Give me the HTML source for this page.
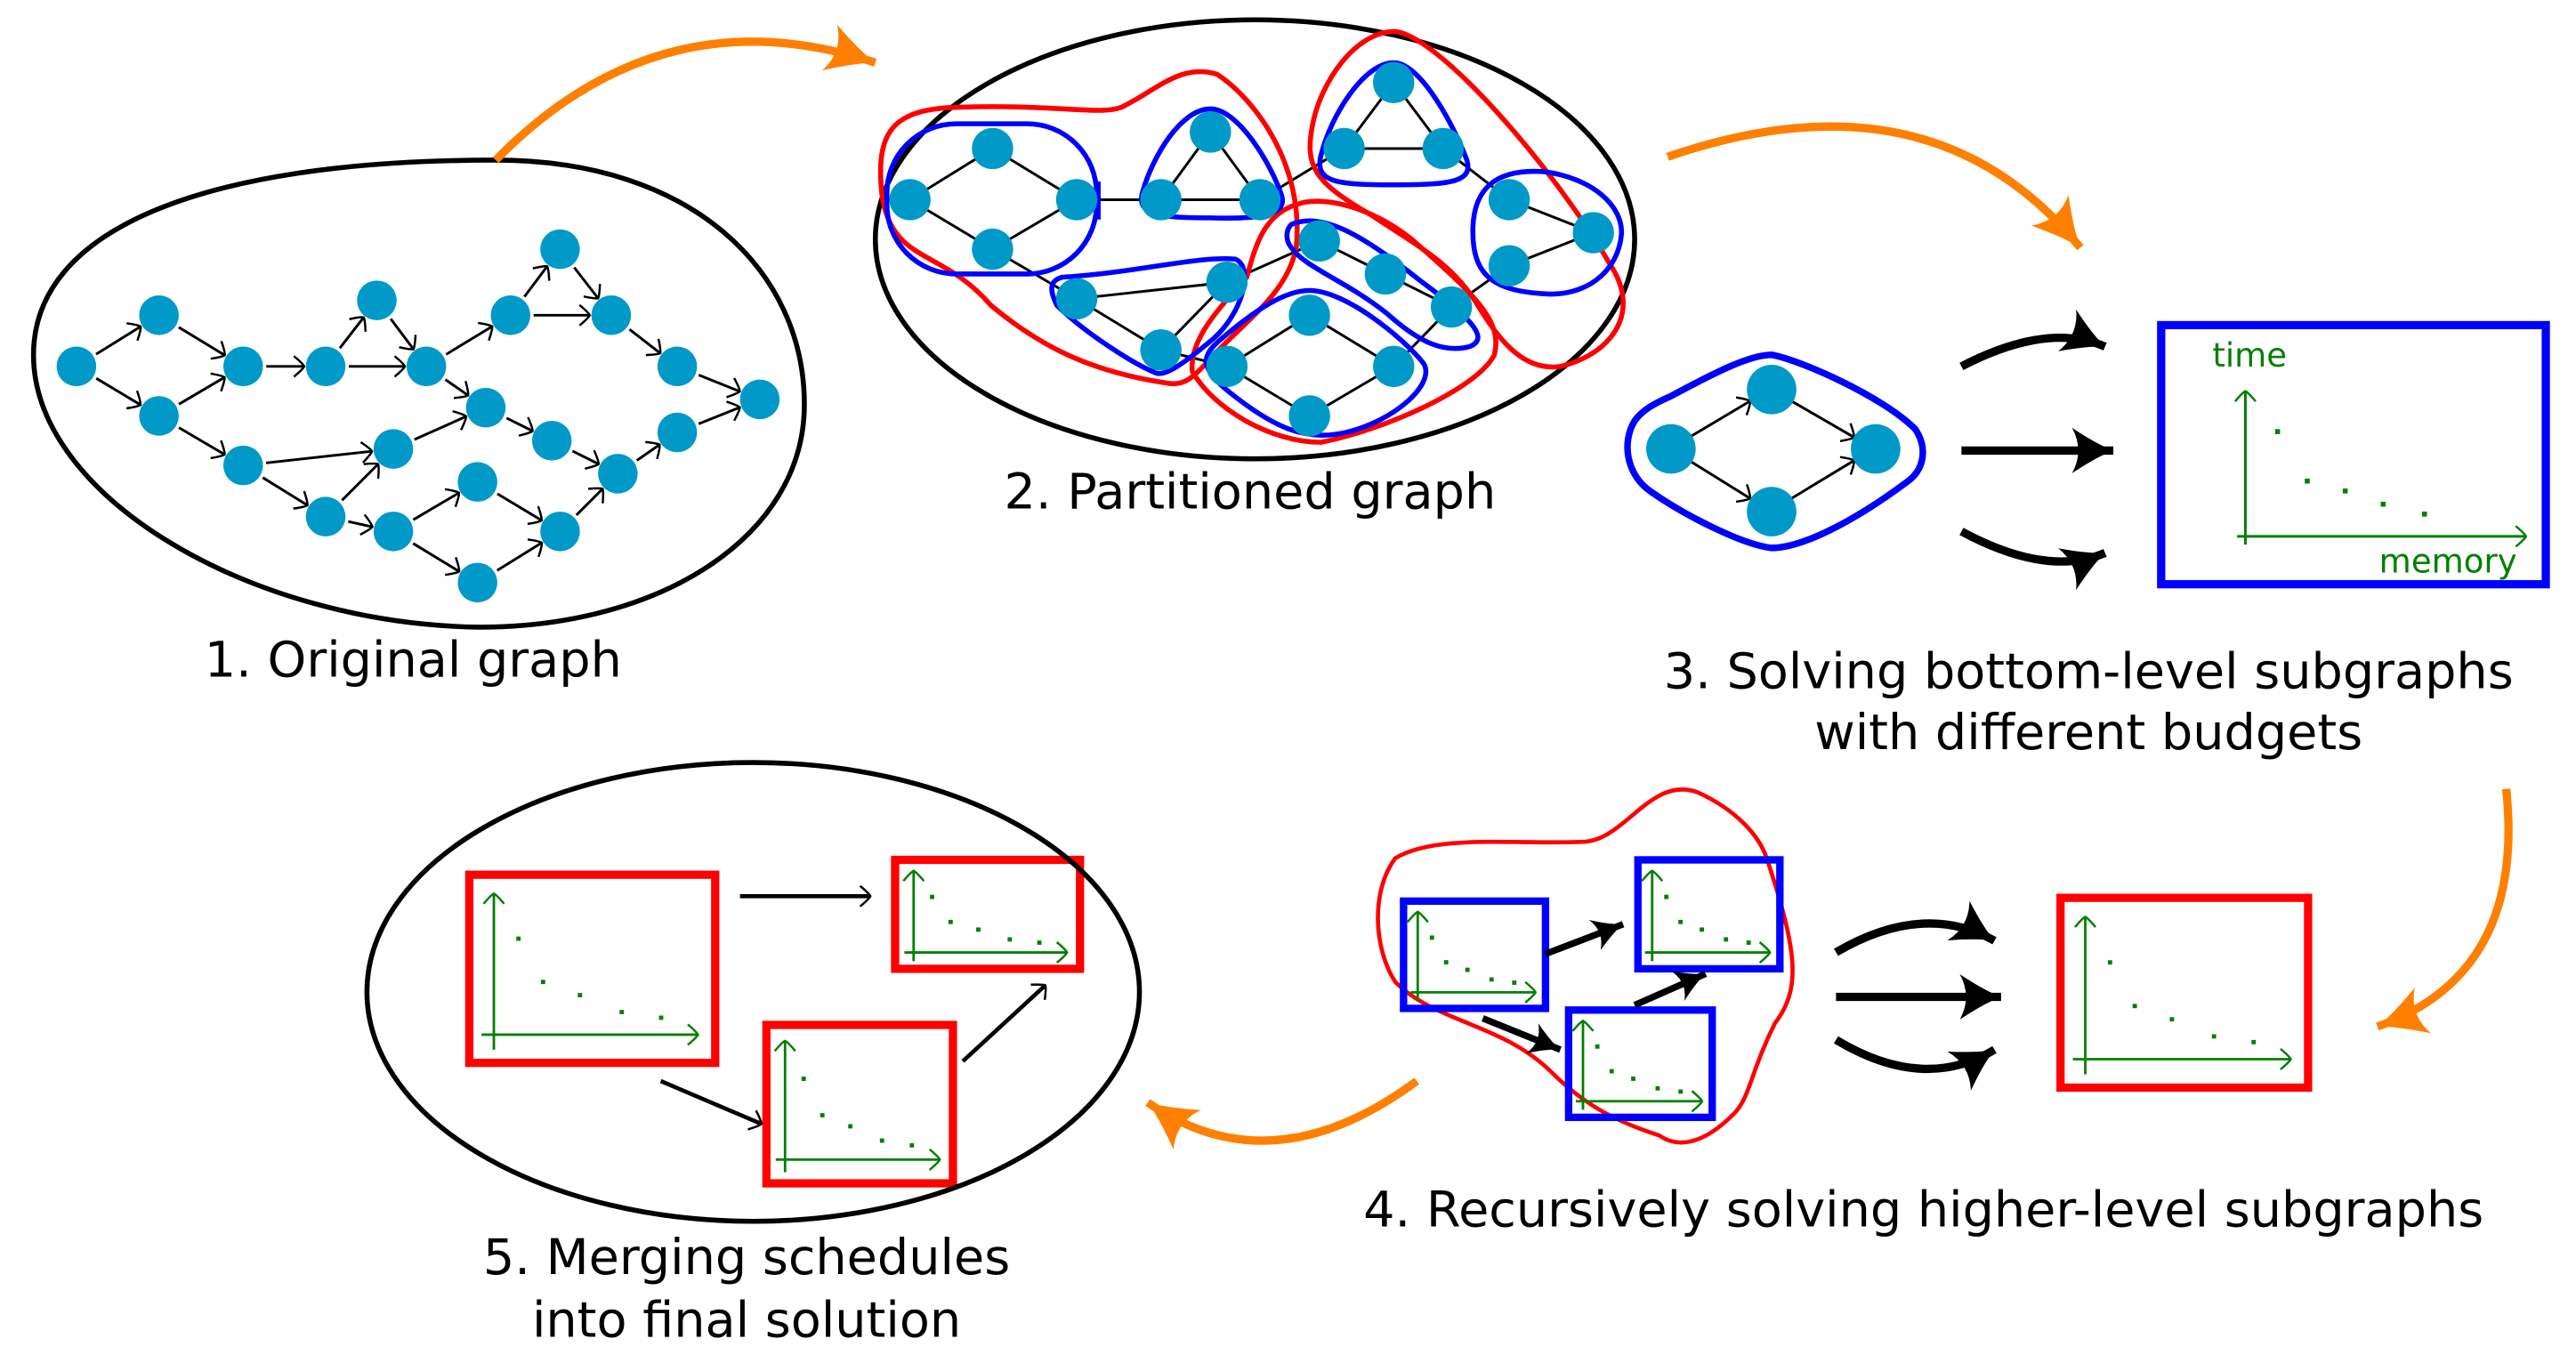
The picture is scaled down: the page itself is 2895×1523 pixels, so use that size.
<!DOCTYPE html>
<html><head><meta charset="utf-8"><style>
html,body{margin:0;padding:0;background:#fff;}
svg{display:block;}
text{font-family:"DejaVu Sans","Liberation Sans",sans-serif;fill:#000;}
</style></head><body>
<svg id="s" width="2895" height="1523" viewBox="0 0 1560 821" xmlns="http://www.w3.org/2000/svg">
<defs>
<marker id="hk" markerWidth="16" markerHeight="16" refX="0" refY="0" viewBox="-9 -9 12 18" orient="auto" markerUnits="userSpaceOnUse">
<path d="M-7,-7 Q-1,-2 0,0 Q-1,2 -7,7" fill="none" stroke="#000" stroke-width="1.5"/>
</marker>
<marker id="ghk" markerWidth="16" markerHeight="16" refX="0" refY="0" viewBox="-9 -9 12 18" orient="auto" markerUnits="userSpaceOnUse">
<path d="M-7,-7 Q-1,-2 0,0 Q-1,2 -7,7" fill="none" stroke="#008000" stroke-width="1.5"/>
</marker>
<marker id="bk" markerWidth="30" markerHeight="30" refX="0" refY="0" viewBox="-22 -12 24 24" orient="auto" markerUnits="userSpaceOnUse">
<path d="M-20,-11 Q-8,-3 0,0 Q-8,3 -20,11 Q-14,0 -20,-11Z" fill="#000"/>
</marker>
<marker id="bks" markerWidth="22" markerHeight="22" refX="0" refY="0" viewBox="-16 -9 18 18" orient="auto" markerUnits="userSpaceOnUse">
<path d="M-15,-8 Q-6,-2 0,0 Q-6,2 -15,8 Q-10,0 -15,-8Z" fill="#000"/>
</marker>
<marker id="ok" markerWidth="34" markerHeight="34" refX="0" refY="0" viewBox="-26 -14 28 28" orient="auto" markerUnits="userSpaceOnUse">
<path d="M-24,-12 Q-9,-3 0,0 Q-9,3 -24,12 Q-17,0 -24,-12Z" fill="#ff8000"/>
</marker>
</defs>

<!-- Section 1 ellipse -->
<path d="M300,97 C420,97 487,165 487,245 C487,325 400,380 290,380 C150,378 20,300 20,215 C20,140 120,97 300,97Z" fill="none" stroke="#000" stroke-width="3"/>
<g id="g1"></g>

<!-- Section 2 -->
<ellipse cx="760" cy="145" rx="230" ry="133" fill="none" stroke="#000" stroke-width="3"/>
<g id="g2e" stroke="#000" stroke-width="1.6"></g>
<g fill="none" stroke-width="3">
<path d="M534,118 C530,80 540,66 580,65 C640,63 665,70 679,65 C700,55 715,38 737,45 C760,60 790,100 785,150 C780,175 760,190 740,210 C725,225 720,235 706,232 C660,225 630,210 600,185 C570,150 540,160 534,118Z" stroke="#f00"/>
<path d="M844,19 C870,20 940,100 975,160 C995,190 975,215 945,222 C925,225 910,210 895,185 C880,160 860,150 830,130 C795,110 790,100 795,75 C800,50 820,20 844,19Z" stroke="#f00"/>
<path d="M785,124 C800,118 830,125 855,145 C895,180 910,195 905,215 C895,235 840,260 800,268 C770,268 735,248 722,225 C720,205 740,185 755,168 C760,150 765,130 785,124Z" stroke="#f00"/>
<rect x="537" y="75" width="127" height="91" rx="42" stroke="#00f"/>
<line x1="665" y1="110" x2="665" y2="133" stroke="#00f"/>
<path d="M733,66 C750,66 770,100 776,118 C780,130 765,133 733,132 C700,132 688,130 692,116 C698,95 715,66 733,66Z" stroke="#00f"/>
<path d="M844,38 C860,38 880,75 888,96 C893,110 880,112 844,112 C808,112 796,110 800,94 C806,70 826,38 844,38Z" stroke="#00f"/>
<path d="M935,104 C965,108 983,125 982,142 C980,165 960,180 935,178 C902,176 892,165 892,140 C892,115 905,102 935,104Z" stroke="#00f"/>
<path d="M643,168 C690,165 725,155 748,157 C760,162 752,190 735,205 C715,222 705,228 700,226 C685,220 655,200 640,185 C635,175 636,170 643,168Z" stroke="#00f"/>
<path d="M782,136 C800,128 825,142 860,170 C890,192 903,205 890,210 C875,214 860,208 840,190 C815,170 790,162 782,150 C778,145 779,139 782,136Z" stroke="#00f"/>
<path d="M793,176 C815,176 850,205 862,220 C870,232 845,255 815,262 C790,268 770,258 745,238 C725,222 728,215 740,205 C760,188 778,176 793,176Z" stroke="#00f"/>
</g>
<g id="g2n" fill="#0099c8"></g>

<!-- Section 3 -->
<path d="M1012,240 C1040,225 1060,215 1073,215 C1090,218 1140,240 1160,260 C1168,272 1165,285 1155,292 C1120,318 1090,332 1073,332 C1055,330 1020,312 1000,298 C985,288 982,268 990,255 C995,248 1003,244 1012,240Z" fill="none" stroke="#00f" stroke-width="4"/>
<g stroke="#000" stroke-width="1.6" marker-end="url(#hk)">
<line x1="1023" y1="265" x2="1060" y2="243"/>
<line x1="1023" y1="279" x2="1060" y2="302"/>
<line x1="1085" y1="243" x2="1123" y2="265"/>
<line x1="1085" y1="302" x2="1123" y2="279"/>
</g>
<g fill="#0099c8">
<circle cx="1012" cy="272" r="15"/><circle cx="1073" cy="236" r="15"/><circle cx="1073" cy="310" r="15"/><circle cx="1136" cy="272" r="15"/>
</g>
<g fill="none" stroke="#000" stroke-width="5">
<path d="M1188,222 Q1240,195 1275,210" marker-end="url(#bk)"/>
<line x1="1188" y1="273" x2="1280" y2="273" marker-end="url(#bk)"/>
<path d="M1188,322 Q1240,350 1275,335" marker-end="url(#bk)"/>
</g>
<rect x="1309" y="197" width="233" height="157" fill="none" stroke="#00f" stroke-width="5"/>
<g stroke="#008000" stroke-width="1.6" fill="none">
<line x1="1360" y1="330" x2="1360" y2="237" marker-end="url(#ghk)"/>
<line x1="1355" y1="325" x2="1530" y2="325" marker-end="url(#ghk)"/>
</g>
<g fill="#008000"><rect x="1378" y="260" width="3" height="3"/><rect x="1396" y="290" width="3" height="3"/><rect x="1419" y="296" width="3" height="3"/><rect x="1442" y="304" width="3" height="3"/><rect x="1467" y="310" width="3" height="3"/></g>
<text x="1340" y="222" font-size="20" style="fill:#008000">time</text>
<text x="1441" y="347" font-size="20" style="fill:#008000">memory</text>

<!-- Section 4 -->
<path d="M845,520 C870,505 920,512 960,510 C985,508 1000,470 1028,480 C1050,490 1065,505 1070,520 C1090,580 1090,600 1075,620 C1060,650 1060,665 1050,675 C1030,695 1015,695 1005,688 C980,680 960,670 940,650 C910,620 870,620 845,595 C832,575 830,540 845,520Z" fill="none" stroke="#f00" stroke-width="2.5"/>
<g id="plots"></g>
<g stroke="#000" stroke-width="4" marker-end="url(#bks)">
<line x1="936" y1="578" x2="983" y2="560"/>
<line x1="898" y1="617" x2="945" y2="636"/>
<line x1="990" y1="609" x2="1033" y2="590"/>
</g>
<g fill="none" stroke="#000" stroke-width="5">
<path d="M1112,577 Q1165,546 1208,570" marker-end="url(#bk)"/>
<line x1="1112" y1="604" x2="1212" y2="604" marker-end="url(#bk)"/>
<path d="M1112,630 Q1165,662 1208,636" marker-end="url(#bk)"/>
</g>

<!-- Section 5 -->
<ellipse cx="456" cy="601" rx="234" ry="139" fill="none" stroke="#000" stroke-width="3"/>
<g stroke="#000" stroke-width="2.5" marker-end="url(#hk)">
<line x1="448" y1="543" x2="527" y2="543"/>
<line x1="400" y1="655" x2="461" y2="681"/>
<line x1="583" y1="643" x2="633" y2="597"/>
</g>

<!-- Orange arrows -->
<g fill="none" stroke="#ff8000" stroke-width="5">
<path d="M300,97 Q400,-5 530,38" marker-end="url(#ok)"/>
<path d="M1010,95 Q1170,40 1260,150" marker-end="url(#ok)"/>
<path d="M1518,478 Q1530,590 1440,622" marker-end="url(#ok)"/>
<path d="M858,655 Q770,720 695,668" marker-end="url(#ok)"/>
</g>

<!-- Labels -->
<text x="250" y="410" font-size="30" text-anchor="middle">1. Original graph</text>
<text x="757" y="308" font-size="30" text-anchor="middle">2. Partitioned graph</text>
<text x="1265" y="417" font-size="30" text-anchor="middle">3. Solving bottom-level subgraphs</text>
<text x="1265" y="454" font-size="30" text-anchor="middle">with different budgets</text>
<text x="1165" y="743" font-size="30" text-anchor="middle">4. Recursively solving higher-level subgraphs</text>
<text x="452" y="772" font-size="30" text-anchor="middle">5. Merging schedules</text>
<text x="452" y="810" font-size="30" text-anchor="middle">into final solution</text>
</svg>
<script>
var NS="http://www.w3.org/2000/svg";
function el(p,t,a){var e=document.createElementNS(NS,t);for(var k in a)e.setAttribute(k,a[k]);p.appendChild(e);return e;}
var n={A:[46,222],B:[96,191],C:[96,252],D:[147,222],E:[147,282],F:[197,222],G:[228,182],H:[258,222],I:[309,191],J:[339,151],K:[370,191],L:[294,247],M:[238,272],N:[197,313],O:[238,322],P:[289,292],Q:[289,353],R:[339,322],S:[334,267],W:[374,287],T:[410,222],V:[410,262],U:[460,242]};
var e1="AB AC BD CD CE DF FG FH GH HI HL IJ IK JK KT TU EM EN NM ML LS SW NO OP OQ PR QR RW WV VU".split(" ");
var g1=document.getElementById("g1");
e1.forEach(function(s){var a=n[s[0]],b=n[s[1]],dx=b[0]-a[0],dy=b[1]-a[1],L=Math.hypot(dx,dy),ux=dx/L,uy=dy/L;
el(g1,"line",{x1:a[0]+ux*14,y1:a[1]+uy*14,x2:b[0]-ux*13,y2:b[1]-uy*13,stroke:"#000","stroke-width":1.6,"marker-end":"url(#hk)"});});
for(var k in n)el(g1,"circle",{cx:n[k][0],cy:n[k][1],r:12,fill:"#0099c8"});
var m=[[601,90],[551,121],[652,121],[601,151],[733,80],[703,121],[763,121],[844,50],[814,90],[874,90],[914,121],[965,141],[914,161],[652,181],[743,171],[703,212],[799,146],[839,166],[879,186],[793,191],[743,222],[844,222],[793,252]];
var e2=[[1,0],[0,2],[1,3],[3,2],[2,5],[4,5],[4,6],[5,6],[6,8],[7,8],[7,9],[8,9],[9,10],[10,11],[11,12],[3,13],[13,14],[13,15],[14,15],[15,20],[14,16],[16,17],[17,18],[18,21],[19,20],[19,21],[20,22],[21,22],[12,18]];
var g2e=document.getElementById("g2e"),g2n=document.getElementById("g2n");
e2.forEach(function(p){el(g2e,"line",{x1:m[p[0]][0],y1:m[p[0]][1],x2:m[p[1]][0],y2:m[p[1]][1]});});
m.forEach(function(p){el(g2n,"circle",{cx:p[0],cy:p[1],r:12.5});});
var pl=document.getElementById("plots");
function plot(x,y,w,h,col,sw){
 el(pl,"rect",{x:x,y:y,width:w,height:h,fill:"none",stroke:col,"stroke-width":sw});
 var ax=x+w*0.1,ay=y+h*0.85;
 el(pl,"line",{x1:ax,y1:y+h*0.93,x2:ax,y2:y+h*0.1,stroke:"#008000","stroke-width":1.5,"marker-end":"url(#ghk)"});
 el(pl,"line",{x1:x+w*0.05,y1:ay,x2:x+w*0.93,y2:ay,stroke:"#008000","stroke-width":1.5,"marker-end":"url(#ghk)"});
 [[0.2,0.34],[0.3,0.57],[0.45,0.64],[0.62,0.73],[0.78,0.76]].forEach(function(d){el(pl,"rect",{x:x+w*d[0]-1.3,y:y+h*d[1]-1.3,width:2.6,height:2.6,fill:"#008000"});});
}
plot(850,546,86,65,"#00f",4.5);
plot(992,521,86,66,"#00f",4.5);
plot(950,612,87,65,"#00f",4.5);
plot(1248,544,150,115,"#f00",5);
plot(284,530,149,114,"#f00",5);
plot(542,521,112,66,"#f00",5);
plot(464,621,113,96,"#f00",5);
</script>
</body></html>
